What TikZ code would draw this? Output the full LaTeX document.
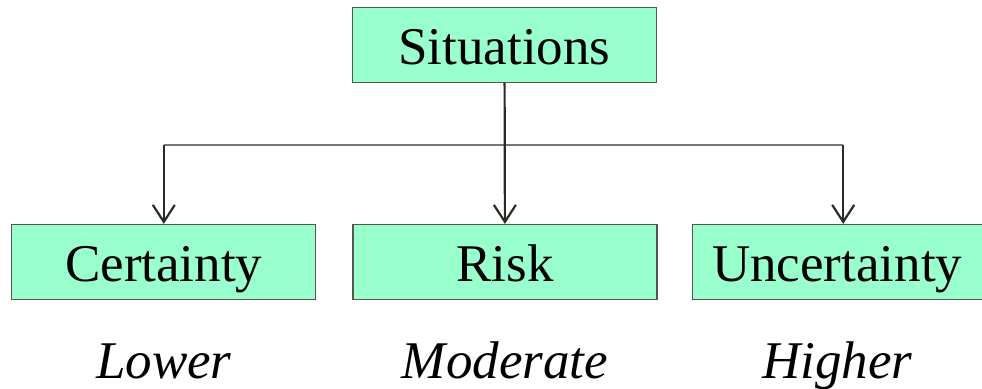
\documentclass[tikz,border=0pt]{standalone}
\usepackage{fontspec}
\setmainfont{Liberation Serif}
\usetikzlibrary{positioning,arrows.meta}
\definecolor{vertMenthe}{HTML}{99FFCC}
\definecolor{grisBord}{HTML}{555555}
\definecolor{grisLigne}{HTML}{777777}
\definecolor{noirFleche}{HTML}{2B2B26}
\tikzset{
  boite/.style={
    rectangle, draw=grisBord, fill=vertMenthe, line width=1.2pt,
    minimum width=304pt, minimum height=75pt, inner sep=0pt,
    text height=39pt, text depth=0pt,
    font=\fontsize{53}{60}\selectfont},
  fleche/.style={-{Straight Barb[length=17pt,width=22pt,line width=2.2pt]},
    draw=noirFleche, line width=2.2pt},
  ligne/.style={draw=grisLigne, line width=1.5pt},
  niveau/.style={font=\fontsize{53}{60}\selectfont\itshape, inner sep=0pt}
}

\begin{document}
\begin{tikzpicture}

  \useasboundingbox (0,0) rectangle (982pt,-388pt);

  % --- Boites
  \node[boite] (sit) at (504.5pt,-45pt) {Situations};
  \node[boite] (risk) at (505pt,-262pt) {Risk};
  \node[boite, left=36pt of risk] (cert) {Certainty};
  \node[boite, minimum width=290pt, right=34pt of risk] (unc) {Uncertainty};

  % --- Niveaux
  \node[niveau, anchor=base] (bas) at ([yshift=-78pt]cert.south) {Lower};
  \node[niveau, anchor=base] (moyen) at ([yshift=-78pt]risk.south) {Moderate};
  \node[niveau, anchor=base] (haut) at ([yshift=-78pt]unc.south) {Higher};

  % --- Branches
  \path (cert.north) ++(0,79pt) coordinate (brG);
  \path (unc.north) ++(6pt,79pt) coordinate (brD);
  \draw[ligne] (brG) -- (brD);
  \draw[fleche] (sit) -- (risk);
  \draw[fleche] (brG) -- (cert);
  \draw[fleche] (brD) -- (brD |- unc.north);

\end{tikzpicture}
\end{document}
